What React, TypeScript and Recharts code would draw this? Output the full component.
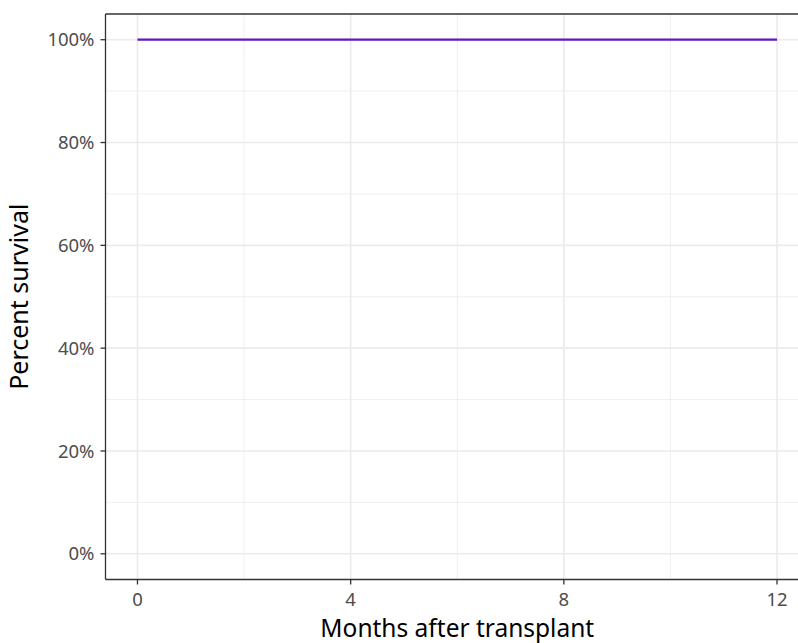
import { LineChart, Line, XAxis, YAxis, ReferenceLine, Label } from 'recharts';

// Kaplan–Meier style survival curve (no events in the first year)
const months = [0, 12];
const survival = [100, 100];

const xTicks = [0, 4, 8, 12];
const xMinor = [2, 6, 10];
const yTicks = [0, 20, 40, 60, 80, 100];
const yMinor = [10, 30, 50, 70, 90];

const data = months.map((m, i) => ({ m, s: survival[i] }));

const FONT = '"Noto Sans", "Open Sans", sans-serif';
const GRID = '#EBEBEB';
const INK = '#333333';

const XTitle = ({ viewBox }: any) => (
  <text
    x={viewBox.x + viewBox.width / 2}
    y={637}
    textAnchor="middle"
    fontSize={24.5}
    fontFamily={FONT}
    fill="#000"
  >
    Months after transplant
  </text>
);

const YTitle = ({ viewBox }: any) => {
  const cx = 28;
  const cy = viewBox.y + viewBox.height / 2;
  return (
    <text
      x={cx}
      y={cy}
      transform={`rotate(-90 ${cx} ${cy})`}
      textAnchor="middle"
      fontSize={25}
      fontFamily={FONT}
      fill="#000"
    >
      Percent survival
    </text>
  );
};

export default function App() {
  const tick = { fontSize: 18.5, fill: '#4D4D4D', fontFamily: FONT };
  return (
    <div style={{ position: 'absolute', left: 0, top: 0, width: 798, height: 643, overflow: 'hidden', background: '#fff' }}>
      <LineChart width={830} height={643} data={data} margin={{ top: 14, right: 21, left: 0, bottom: 0 }}>
        {yMinor.map(v => (
          <ReferenceLine key={`ym${v}`} y={v} stroke={GRID} strokeWidth={0.8} />
        ))}
        {xMinor.map(v => (
          <ReferenceLine key={`xm${v}`} x={v} stroke={GRID} strokeWidth={0.8} />
        ))}
        {yTicks.map(v => (
          <ReferenceLine key={`yM${v}`} y={v} stroke={GRID} strokeWidth={1.6} />
        ))}
        {xTicks.map(v => (
          <ReferenceLine key={`xM${v}`} x={v} stroke={GRID} strokeWidth={1.6} />
        ))}
        <XAxis
          dataKey="m"
          type="number"
          domain={[-0.6, 12.6]}
          ticks={xTicks}
          allowDataOverflow
          height={63.5}
          tick={tick}
          tickSize={5}
          tickMargin={8}
          axisLine={{ stroke: INK, strokeWidth: 1.3 }}
          tickLine={{ stroke: INK, strokeWidth: 1.3 }}
        >
          <Label content={<XTitle />} />
        </XAxis>
        <YAxis
          type="number"
          domain={[-5, 105]}
          ticks={yTicks}
          allowDataOverflow
          width={105.5}
          tick={tick}
          tickSize={5}
          tickMargin={6}
          tickFormatter={v => `${v}%`}
          axisLine={{ stroke: INK, strokeWidth: 1.3 }}
          tickLine={{ stroke: INK, strokeWidth: 1.3 }}
        >
          <Label content={<YTitle />} />
        </YAxis>
        <ReferenceLine y={105} stroke={INK} strokeWidth={1.3} />
        <Line
          type="stepAfter"
          dataKey="s"
          stroke="#6414C4"
          strokeWidth={2.2}
          dot={false}
          isAnimationActive={false}
        />
      </LineChart>
    </div>
  );
}
